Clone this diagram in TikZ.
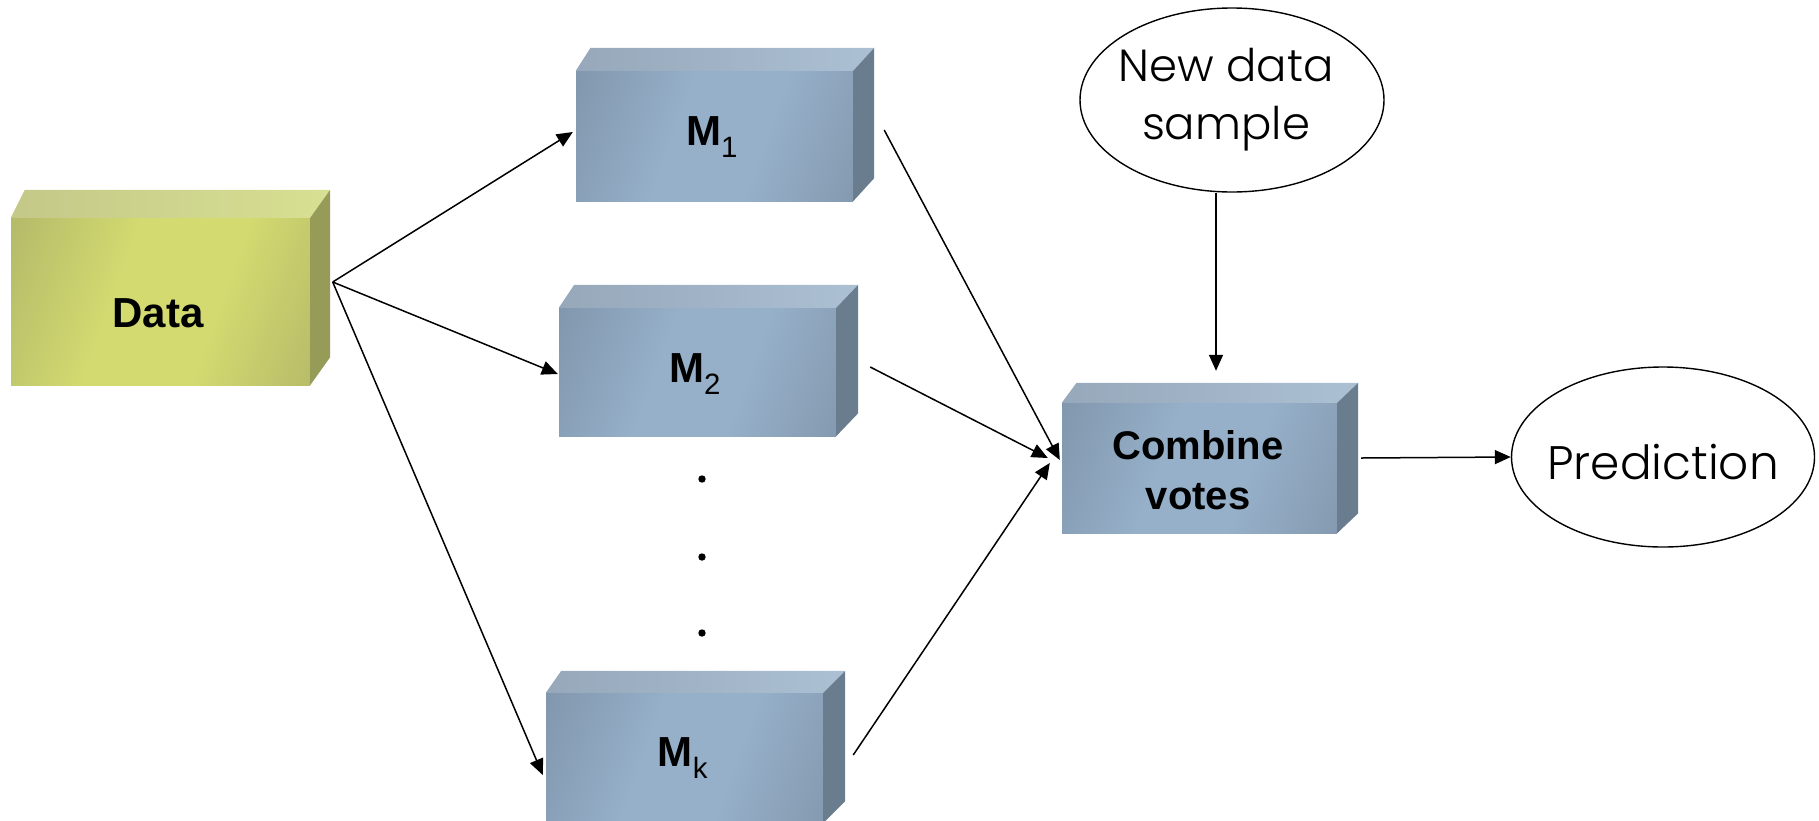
\documentclass[tikz,border=0pt]{standalone}
\usepackage{fontspec}
\setmainfont{Liberation Sans}
\newfontfamily\gothic{Poppins Light}
\usetikzlibrary{arrows.meta,shapes.geometric,calc}

% colours of the bevelled boxes
\definecolor{bfl}{RGB}{126,148,170}
\definecolor{bfm}{RGB}{150,176,201}
\definecolor{bfr}{RGB}{130,151,173}
\definecolor{btl}{RGB}{150,168,186}
\definecolor{btr}{RGB}{172,192,212}
\definecolor{bside}{RGB}{106,125,143}
\definecolor{gfl}{RGB}{176,182,104}
\definecolor{gfm}{RGB}{211,219,112}
\definecolor{gfr}{RGB}{180,184,104}
\definecolor{gtl}{RGB}{196,200,136}
\definecolor{gtr}{RGB}{216,224,146}
\definecolor{gside}{RGB}{150,155,88}

% broad soft gradients for the front faces
\pgfdeclarehorizontalshading{bluegrad}{100bp}{color(0bp)=(bfl); color(15bp)=(bfl);
  color(42bp)=(bfm); color(60bp)=(bfm); color(85bp)=(bfr); color(100bp)=(bfr)}
\pgfdeclarehorizontalshading{greengrad}{100bp}{color(0bp)=(gfl); color(15bp)=(gfl);
  color(42bp)=(gfm); color(60bp)=(gfm); color(85bp)=(gfr); color(100bp)=(gfr)}

% top and right faces of a box drawn behind its front node
% #1 node, #2 depth in x, #3 depth in y, #4 top style, #5 side style
\newcommand\boxfaces[5]{%
  \path[#4] (#1.north west) -- ++({0.7*#2},{-#3}) -- ($(#1.north east)+(#2,{-#3})$)
        -- (#1.north east) -- cycle;
  \path[#5] (#1.north east) -- ++(#2,{-#3}) -- ($(#1.south east)+(#2,{-#3})$)
        -- (#1.south east) -- cycle;
}

\begin{document}
\begin{tikzpicture}[x=1pt,y=-1pt,
  bluefront/.style={rectangle, inner sep=0pt, shading=bluegrad, shading angle=-20},
  greenfront/.style={rectangle, inner sep=0pt, shading=greengrad, shading angle=-20},
  bluetop/.style={left color=btl, right color=btr},
  blueside/.style={fill=bside},
  greentop/.style={left color=gtl, right color=gtr},
  greenside/.style={fill=gside},
  boxtext/.style={inner sep=0pt, align=center, font=\bfseries\fontsize{42}{50}\selectfont},
  oval/.style={ellipse, draw, line width=1.4pt, inner sep=0pt},
  ovaltext/.style={inner sep=0pt, align=center, font=\gothic\fontsize{45}{58}\selectfont},
  arr/.style={line width=1.5pt, -{Triangle[length=16pt,width=14pt]}}]
\useasboundingbox (0,0) rectangle (1819,820);

% boxes: front faces
\node[greenfront, minimum width=299, minimum height=167] (data) at (160.5,301.5) {};
\node[bluefront, minimum width=277, minimum height=130] (m1) at (714.5,136) {};
\node[bluefront, minimum width=277, minimum height=128] (m2) at (697.5,372) {};
\node[bluefront, minimum width=277, minimum height=130] (mk) at (684.5,758) {};
\node[bluefront, minimum width=275, minimum height=130] (comb) at (1199.5,468) {};

% boxes: depth faces
\boxfaces{data}{20}{28}{greentop}{greenside}
\boxfaces{m1}{21}{23}{bluetop}{blueside}
\boxfaces{m2}{22}{23}{bluetop}{blueside}
\boxfaces{mk}{22}{22}{bluetop}{blueside}
\boxfaces{comb}{21}{20}{bluetop}{blueside}

% box labels
\node[boxtext] (datatxt) at (158,313) {Data};
\node[boxtext] (m1txt) at (712,137) {M\textsubscript{\mdseries 1}};
\node[boxtext] (m2txt) at (695,374) {M\textsubscript{\mdseries 2}};
\node[boxtext] (mktxt) at (683,758) {M\textsubscript{\mdseries k}};
\node[boxtext, font=\bfseries\fontsize{40}{50}\selectfont] (combtxt) at (1198,470) {Combine\\votes};

% ovals
\node[oval, minimum width=304, minimum height=184] (new) at (1232,100) {};
\node[ovaltext] (newtxt) at (1226,100) {New data\\sample};
\node[oval, minimum width=303, minimum height=180] (pred) at (1663,457) {};
\node[ovaltext, font=\gothic\fontsize{47}{58}\selectfont] (predtxt) at (1663,462) {Prediction};

% the dots between M2 and Mk
\fill (702,479) circle (3.7);
\fill (702,557) circle (3.7);
\fill (702,633) circle (3.7);

% connector end points
\coordinate (dataout) at ($(data.east)+(22.5,-19.5)$);
\coordinate (m1out) at ($(m1.east)+(31,-6)$);
\coordinate (m2out) at ($(m2.east)+(34,-5)$);
\coordinate (mkout) at ($(mk.east)+(30,-3)$);
\coordinate (newout) at ($(new.south)+(-16,0)$);
\coordinate (combin) at ($(comb.north)+(16.5,-32)$);
\coordinate (combout) at ($(comb.east)+(24,-10)$);

% connectors
\draw[arr] (dataout) -- ($(m1.west)+(-3,-4)$);
\draw[arr] (dataout) -- ($(m2.west)+(-1,2)$);
\draw[arr] (dataout) -- ($(mk.west)+(-3,17)$);
\draw[arr] (m1out) -- ($(comb.west)+(-2,-8)$);
\draw[arr] (m2out) -- ($(comb.west)+(-14,-10)$);
\draw[arr] (mkout) -- ($(comb.west)+(-12,-5)$);
\draw[arr] (newout) -- (combin);
\draw[arr] (combout) -- (pred.west);
\end{tikzpicture}
\end{document}
